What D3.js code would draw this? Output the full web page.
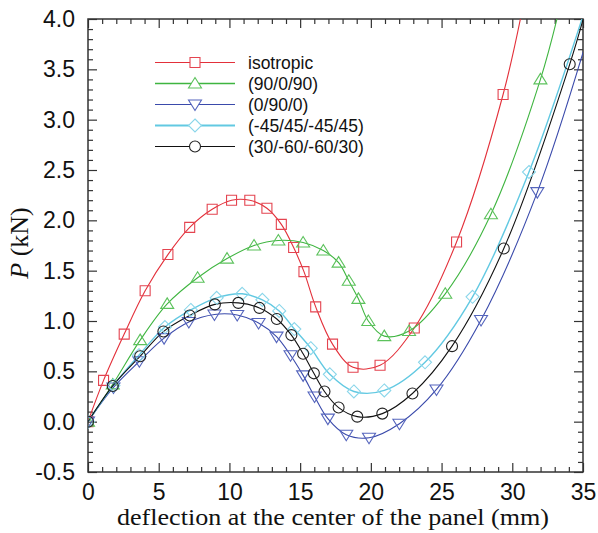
<!DOCTYPE html>
<html><head><meta charset="utf-8">
<script src="https://cdn.jsdelivr.net/npm/d3@7"></script>
<style>body{margin:0;background:#fff}</style></head>
<body><svg id="c" width="598" height="533"></svg>
<script>
// ---- data ----
const seriesNames = ["isotropic", "(90/0/90)", "(0/90/0)", "(-45/45/-45/45)", "(30/-60/-60/30)"];
const isoX = [0, 1.1, 2.56, 4.04, 5.65, 7.19, 8.78, 10.15, 11.44, 12.65, 13.67, 14.54, 15.27, 16.1, 17.29, 18.74, 20.65, 23.07, 26.06, 29.35];
const isoY = [0, 0.41, 0.87, 1.30, 1.66, 1.93, 2.11, 2.20, 2.20, 2.12, 1.96, 1.73, 1.49, 1.14, 0.77, 0.54, 0.56, 0.93, 1.785, 3.25];
const g90X = [0, 1.75, 3.69, 5.6, 7.75, 9.83, 11.74, 13.46, 15.21, 16.64, 17.72, 18.44, 19.12, 19.82, 20.95, 22.7, 25.26, 28.49, 31.99];
const g90Y = [0, 0.37, 0.81, 1.17, 1.43, 1.62, 1.75, 1.80, 1.78, 1.70, 1.58, 1.40, 1.22, 1.00, 0.85, 0.90, 1.27, 2.06, 3.40];
const b0X = [0, 1.8, 3.63, 5.38, 7.13, 8.94, 10.55, 12.06, 13.33, 14.32, 15.21, 16.02, 16.96, 18.26, 19.87, 22.02, 24.64, 27.79, 31.77];
const b0Y = [0, 0.34, 0.60, 0.83, 0.99, 1.065, 1.06, 0.98, 0.845, 0.66, 0.46, 0.25, 0.03, -0.13, -0.16, -0.02, 0.32, 1.01, 2.28];
const c45X = [0, 1.8, 3.6, 5.44, 7.27, 9.1, 10.9, 12.33, 13.52, 14.59, 15.75, 17.1, 18.8, 20.95, 23.83, 27.19, 31.18];
const c45Y = [0, 0.36, 0.66, 0.94, 1.11, 1.23, 1.27, 1.21, 1.10, 0.92, 0.73, 0.47, 0.30, 0.31, 0.59, 1.24, 2.48];
const k30X = [0, 1.75, 3.69, 5.33, 7.19, 8.97, 10.63, 12.12, 13.35, 14.38, 15.21, 15.97, 16.72, 17.72, 19.04, 20.81, 22.94, 25.74, 29.4, 34.06];
const k30Y = [0, 0.355, 0.65, 0.895, 1.055, 1.165, 1.18, 1.13, 1.02, 0.86, 0.675, 0.48, 0.30, 0.14, 0.05, 0.08, 0.28, 0.75, 1.72, 3.55];
// curve continuation beyond the last marker (line only, clipped by the frame)
const tailX = [31.0, 33.5, 35.5, 35.5, 35.5];
const tailY = [4.3, 4.2, 3.9, 4.25, 4.25];
const xMajorTicks = [0, 5, 10, 15, 20, 25, 30, 35];
const yMajorTicks = [-0.5, 0.0, 0.5, 1.0, 1.5, 2.0, 2.5, 3.0, 3.5, 4.0];

const seriesX = [isoX, g90X, b0X, c45X, k30X];
const seriesY = [isoY, g90Y, b0Y, c45Y, k30Y];
const lineColors = ["#e3303a", "#3fb540", "#3a4aab", "#62c9e2", "#111111"];
const markColors = ["#e44450", "#5cc25c", "#5565bd", "#8ad6ea", "#222222"];
const lineWidths = [1.1, 1.1, 1.1, 1.4, 1.1];
const markerTypes = ["square", "triUp", "triDown", "diamond", "circle"];

// ---- layout ----
const svg = d3.select("#c");
const L = 88, R = 583, T = 19, B = 472;
const x = d3.scaleLinear().domain([0, 35]).range([L, R]);
const y = d3.scaleLinear().domain([-0.5, 4.0]).range([B, T]);
const xMinor = d3.range(0, 36, 1).filter(v => v % 5 !== 0);
const yMinor = d3.range(-5, 41, 1).map(v => v / 10).filter(v => Math.round(v * 10) % 5 !== 0);

svg.append("defs").append("clipPath").attr("id", "clip")
  .append("rect").attr("x", L).attr("y", T).attr("width", R - L).attr("height", B - T);

const tickFont = "'Liberation Sans', Arial, sans-serif";
const axisColor = "#333";
function styleAxis(g) {
  g.select(".domain").remove();
  g.selectAll("line").attr("stroke", axisColor).attr("stroke-width", 1.2);
  g.selectAll("text").attr("fill", "#111").style("font-family", tickFont).style("font-size", "23px");
}
// bottom
svg.append("g").attr("transform", `translate(0,${B})`)
  .call(d3.axisBottom(x).tickValues(xMajorTicks).tickSize(-9).tickPadding(12).tickFormat(d3.format("d"))).call(styleAxis);
svg.append("g").attr("transform", `translate(0,${B})`)
  .call(d3.axisBottom(x).tickValues(xMinor).tickSize(-5).tickFormat("")).call(styleAxis);
// top
svg.append("g").attr("transform", `translate(0,${T})`)
  .call(d3.axisTop(x).tickValues(xMajorTicks).tickSize(-9).tickFormat("")).call(styleAxis);
svg.append("g").attr("transform", `translate(0,${T})`)
  .call(d3.axisTop(x).tickValues(xMinor).tickSize(-5).tickFormat("")).call(styleAxis);
// left
svg.append("g").attr("transform", `translate(${L},0)`)
  .call(d3.axisLeft(y).tickValues(yMajorTicks).tickSize(-9).tickPadding(13).tickFormat(d3.format(".1f"))).call(styleAxis);
svg.append("g").attr("transform", `translate(${L},0)`)
  .call(d3.axisLeft(y).tickValues(yMinor).tickSize(-5).tickFormat("")).call(styleAxis);
// right
svg.append("g").attr("transform", `translate(${R},0)`)
  .call(d3.axisRight(y).tickValues(yMajorTicks).tickSize(-9).tickFormat("")).call(styleAxis);
svg.append("g").attr("transform", `translate(${R},0)`)
  .call(d3.axisRight(y).tickValues(yMinor).tickSize(-5).tickFormat("")).call(styleAxis);

// y labels use hyphen-minus like the reference
svg.selectAll("text").each(function () { const t = d3.select(this); t.text(t.text().replace("\u2212", "-")); });

// frame
svg.append("rect").attr("x", L).attr("y", T).attr("width", R - L).attr("height", B - T)
  .attr("fill", "none").attr("stroke", axisColor).attr("stroke-width", 1.5);

// markers
function markerPath(type) {
  switch (type) {
    case "square": return "M-5,-5H5V5H-5Z";
    case "triUp": return "M0,-6L6.5,4.5L-6.5,4.5Z";
    case "triDown": return "M0,6L6.5,-4.5L-6.5,-4.5Z";
    case "diamond": return "M0,-6.5L6.5,0L0,6.5L-6.5,0Z";
    default: return "M5.5,0A5.5,5.5 0 1,1 -5.5,0A5.5,5.5 0 1,1 5.5,0Z";
  }
}

const line = d3.line().x(d => x(d[0])).y(d => y(d[1])).curve(d3.curveCatmullRom.alpha(0.5));
const plot = svg.append("g").attr("clip-path", "url(#clip)");
seriesX.forEach((xs, i) => {
  const pts = xs.map((v, j) => [v, seriesY[i][j]]);
  const linePts = pts.concat([[tailX[i], tailY[i]]]);
  plot.append("path").attr("d", line(linePts)).attr("fill", "none")
    .attr("stroke", lineColors[i]).attr("stroke-width", lineWidths[i]);
});
seriesX.forEach((xs, i) => {
  const pts = xs.map((v, j) => [v, seriesY[i][j]]);
  plot.selectAll(null).data(pts).enter().append("path")
    .attr("d", markerPath(markerTypes[i]))
    .attr("transform", d => `translate(${x(d[0])},${y(d[1])})`)
    .attr("fill", "none").attr("stroke", markColors[i]).attr("stroke-width", 1.1);
});

// legend
const lg = svg.append("g");
const legY0 = 62.5, legDy = 21;
seriesNames.forEach((name, i) => {
  const yy = legY0 + i * legDy;
  lg.append("line").attr("x1", 155).attr("x2", 235).attr("y1", yy).attr("y2", yy)
    .attr("stroke", lineColors[i]).attr("stroke-width", i === 3 ? 2 : (i === 1 ? 1.5 : 1.1));
  lg.append("path").attr("d", markerPath(markerTypes[i])).attr("transform", `translate(195,${yy})`)
    .attr("fill", "#fff").attr("stroke", markColors[i]).attr("stroke-width", 1.1);
  lg.append("text").attr("x", 248).attr("y", yy).attr("dy", "0.35em").text(name)
    .style("font-family", tickFont).style("font-size", "17.5px").attr("fill", "#111");
});

// axis titles
svg.append("text").attr("x", 333).attr("y", 525).attr("text-anchor", "middle")
  .attr("textLength", 432).attr("lengthAdjust", "spacingAndGlyphs")
  .style("font-family", "'Liberation Serif', 'Times New Roman', serif").style("font-size", "24px")
  .attr("fill", "#111").text("deflection at the center of the panel (mm)");
const yt = svg.append("text").attr("transform", "translate(28,243) rotate(-90)").attr("text-anchor", "middle")
  .style("font-family", "'Liberation Serif', 'Times New Roman', serif").style("font-size", "26px").attr("fill", "#111");
yt.append("tspan").style("font-style", "italic").text("P");
yt.append("tspan").text(" (kN)");
</script></body></html>
